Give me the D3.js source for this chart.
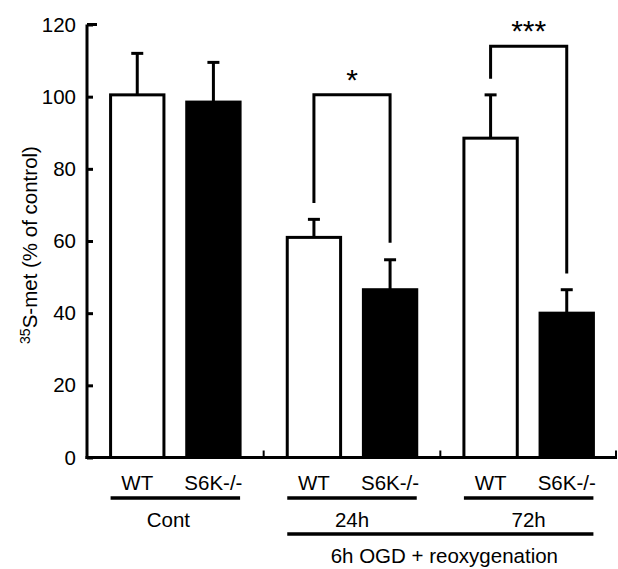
<!DOCTYPE html>
<html>
<head>
<meta charset="utf-8">
<script src="https://cdn.jsdelivr.net/npm/d3@7"></script>
<style>
  body { margin: 0; background: #fff; }
  text { font-family: "Liberation Sans", Arial, sans-serif; fill: #000; }
</style>
</head>
<body>
<svg id="chart"></svg>
<script>
// data
const groups = ['Cont', '24h', '72h']
const genotypes = ['WT', 'S6K-/-']
const means = [100.5, 98.5, 61, 46.5, 88.5, 40]
const sems = [11.5, 11, 5, 8.3, 12, 6.5]
const yTicks = [0, 20, 40, 60, 80, 100, 120]
// significance brackets: group, top, left end, right end, label
const bracketGroups = ['24h', '72h']
const bracketTop = [100.5, 114]
const bracketLeft = [70.5, 105]
const bracketRight = [59.5, 51]
const bracketLabel = ['*', '***']

const width = 618, height = 569
const fs = 20.5
const svg = d3.select('#chart').attr('width', width).attr('height', height)

const y = d3.scaleLinear().domain([0, 120]).range([457.5, 24.5])

const xGroup = d3.scaleBand().domain(groups).range([87, 617])
const xGeno = d3.scaleBand().domain(genotypes).range([0, xGroup.bandwidth()])
    .paddingInner(0.26).paddingOuter(0.29)

const bars = means.map((m, i) => ({
    group: groups[Math.floor(i / 2)],
    geno: genotypes[i % 2],
    mean: m,
    sem: sems[i]
}))
const cx = d => xGroup(d.group) + xGeno(d.geno) + xGeno.bandwidth() / 2

// error bars (upward only)
svg.selectAll('.err').data(bars).join('line')
    .attr('x1', cx).attr('x2', cx)
    .attr('y1', d => y(d.mean)).attr('y2', d => y(d.mean + d.sem))
    .attr('stroke', '#000').attr('stroke-width', 3)
svg.selectAll('.cap').data(bars).join('line')
    .attr('x1', d => cx(d) - 6).attr('x2', d => cx(d) + 6)
    .attr('y1', d => y(d.mean + d.sem)).attr('y2', d => y(d.mean + d.sem))
    .attr('stroke', '#000').attr('stroke-width', 3)

// bars
svg.selectAll('.bar').data(bars).join('rect')
    .attr('x', d => xGroup(d.group) + xGeno(d.geno) + 1.5)
    .attr('width', xGeno.bandwidth() - 3)
    .attr('y', d => y(d.mean))
    .attr('height', d => y(0) - y(d.mean))
    .attr('fill', d => d.geno === 'WT' ? '#fff' : '#000')
    .attr('stroke', '#000').attr('stroke-width', 3)

// y axis
const yAxis = d3.axisLeft(y).tickValues(yTicks).tickSize(-6).tickPadding(11)
const yAxisG = svg.append('g').attr('transform', 'translate(87,0)').call(yAxis)
yAxisG.select('.domain').remove()
yAxisG.selectAll('.tick line').attr('stroke-width', 3)
yAxisG.selectAll('.tick text').attr('font-size', fs)
    .style('font-family', '"Liberation Sans", Arial, sans-serif')
svg.append('line').attr('x1', 87).attr('x2', 87).attr('y1', y(120)).attr('y2', y(0) + 1.5)
    .attr('stroke', '#000').attr('stroke-width', 3)
svg.append('line').attr('x1', 87).attr('x2', 97).attr('y1', y(120)).attr('y2', y(120))
    .attr('stroke', '#000').attr('stroke-width', 3)

// x axis baseline with group separator ticks
svg.append('line').attr('x1', 85.5).attr('x2', 617).attr('y1', y(0)).attr('y2', y(0))
    .attr('stroke', '#000').attr('stroke-width', 3)
svg.selectAll('.sep').data(groups.slice(1).concat(['end'])).join('line')
    .attr('x1', d => d === 'end' ? 616 : xGroup(d)).attr('x2', d => d === 'end' ? 616 : xGroup(d))
    .attr('y1', y(0)).attr('y2', y(0) - 7)
    .attr('stroke', '#000').attr('stroke-width', 2)

// y axis title
const yTitle = svg.append('text')
    .attr('transform', `translate(37,${(y(0) + y(120)) / 2 + 4}) rotate(-90)`)
    .attr('text-anchor', 'middle').attr('font-size', fs)
yTitle.append('tspan').attr('font-size', 14).attr('dy', -7).text('35')
yTitle.append('tspan').attr('dy', 7).text('S-met (% of control)')

// genotype labels
svg.selectAll('.geno').data(bars).join('text')
    .attr('x', cx).attr('y', 490)
    .attr('text-anchor', 'middle').attr('font-size', fs)
    .text(d => d.geno)

// group underlines and labels
const groupLeft = g => xGroup(g) + xGeno('WT') + 1.5
const groupRight = g => xGroup(g) + xGeno('S6K-/-') + xGeno.bandwidth() - 1.5
svg.selectAll('.gline').data(groups).join('line')
    .attr('x1', groupLeft).attr('x2', groupRight)
    .attr('y1', 498).attr('y2', 498)
    .attr('stroke', '#000').attr('stroke-width', 3.5)
svg.selectAll('.glabel').data(groups).join('text')
    .attr('x', g => (groupLeft(g) + groupRight(g)) / 2 - (g === 'Cont' ? 7 : 0))
    .attr('y', 527)
    .attr('text-anchor', 'middle').attr('font-size', fs)
    .text(g => g)

// treatment line and label
svg.append('line')
    .attr('x1', groupLeft('24h')).attr('x2', groupRight('72h'))
    .attr('y1', 534).attr('y2', 534)
    .attr('stroke', '#000').attr('stroke-width', 3.5)
svg.append('text')
    .attr('x', (groupLeft('24h') + groupRight('72h')) / 2 + 4).attr('y', 563)
    .attr('text-anchor', 'middle').attr('font-size', fs)
    .text('6h OGD + reoxygenation')

// significance brackets
bracketGroups.forEach((g, i) => {
    const xl = xGroup(g) + xGeno('WT') + xGeno.bandwidth() / 2
    const xr = xGroup(g) + xGeno('S6K-/-') + xGeno.bandwidth() / 2
    svg.append('path')
        .attr('d', `M${xl},${y(bracketLeft[i])}V${y(bracketTop[i])}H${xr}V${y(bracketRight[i])}`)
        .attr('fill', 'none').attr('stroke', '#000').attr('stroke-width', 3)
    svg.append('text')
        .attr('x', (xl + xr) / 2).attr('y', y(bracketTop[i]) - 5)
        .attr('text-anchor', 'middle').attr('font-size', 30)
        .text(bracketLabel[i])
})
</script>
</body>
</html>
